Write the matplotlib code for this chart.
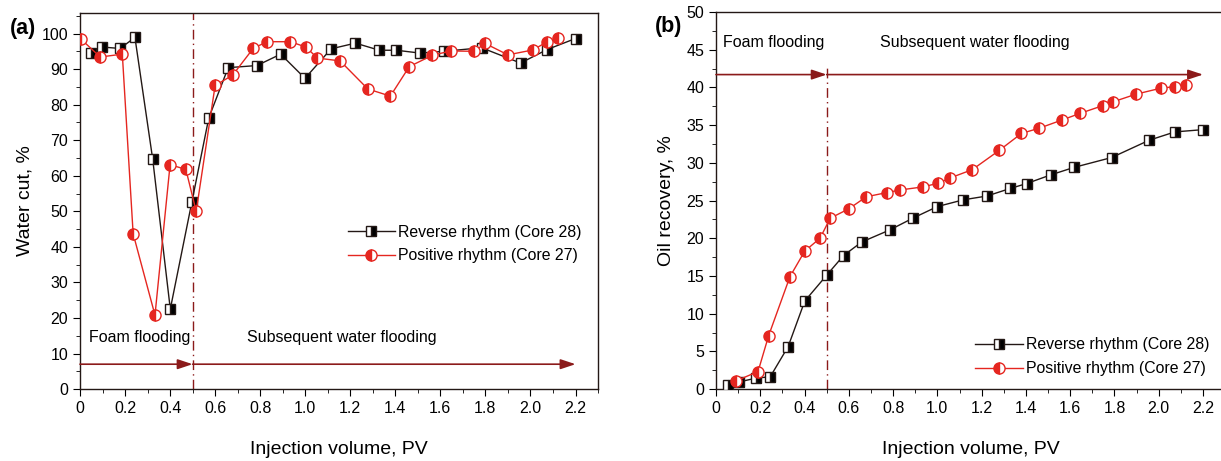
import numpy as np
import matplotlib.pyplot as plt
from matplotlib.ticker import MultipleLocator, FixedLocator

plt.rcParams['font.family'] = ['Liberation Sans', 'DejaVu Sans']

# (a) water cut
wc_rev_x = [0.051, 0.099, 0.178, 0.244, 0.323, 0.401, 0.497, 0.572, 0.658, 0.786, 0.891, 0.999,
            1.115, 1.223, 1.329, 1.404, 1.510, 1.616, 1.783, 1.956, 2.074, 2.2]
wc_rev_y = [94.4, 96.2, 95.8, 98.9, 64.6, 22.5, 52.7, 76.3, 90.4, 91.0, 94.2, 87.4,
            95.7, 97.3, 95.3, 95.3, 94.5, 95.0, 96.0, 91.7, 95.5, 98.6]
wc_pos_x = [0.003, 0.09, 0.188, 0.236, 0.333, 0.40, 0.47, 0.516, 0.6, 0.678, 0.77, 0.832, 0.934,
            1.003, 1.054, 1.155, 1.278, 1.378, 1.462, 1.565, 1.647, 1.749, 1.799, 1.9, 2.012,
            2.074, 2.121]
wc_pos_y = [98.5, 93.4, 94.2, 43.7, 20.8, 63.1, 61.8, 50.0, 85.4, 88.3, 95.9, 97.7, 97.7,
            96.2, 93.1, 92.3, 84.4, 82.4, 90.7, 93.9, 95.1, 95.0, 97.2, 94.0, 95.4,
            97.7, 98.7]

# (b) oil recovery
or_rev_x = [0.053, 0.102, 0.18, 0.245, 0.326, 0.401, 0.5, 0.576, 0.658, 0.785, 0.892, 1.0,
            1.118, 1.224, 1.329, 1.403, 1.512, 1.618, 1.787, 1.957, 2.073, 2.2]
or_rev_y = [0.57, 0.93, 1.45, 1.63, 5.64, 11.67, 15.1, 17.7, 19.5, 21.1, 22.7, 24.2,
            25.1, 25.6, 26.6, 27.25, 28.4, 29.4, 30.7, 33.0, 34.1, 34.4]
or_pos_x = [0.092, 0.19, 0.238, 0.334, 0.401, 0.47, 0.516, 0.6, 0.679, 0.773, 0.831, 0.933,
            1.005, 1.058, 1.158, 1.28, 1.38, 1.461, 1.565, 1.644, 1.749, 1.795, 1.897,
            2.01, 2.072, 2.121]
or_pos_y = [1.1, 2.33, 7.1, 14.9, 18.3, 20.0, 22.66, 23.9, 25.5, 26.06, 26.4, 26.8,
            27.3, 28.0, 29.1, 31.66, 33.9, 34.6, 35.7, 36.55, 37.6, 38.1, 39.1,
            39.9, 40.1, 40.3]

labels = ['Reverse rhythm (Core 28)', 'Positive rhythm (Core 27)']
dark_red = '#8b1a1a'

fig = plt.figure(figsize=(12.21, 4.61), dpi=100)
ax1 = fig.add_axes([0.0655, 0.156, 0.4243, 0.816])
ax2 = fig.add_axes([0.5864, 0.156, 0.417, 0.818])


def style(ax):
    for s in ax.spines.values():
        s.set_color('#231815')
        s.set_linewidth(1.0)
    ax.xaxis.set_major_locator(FixedLocator(np.arange(0, 2.21, 0.2)))
    ax.xaxis.set_minor_locator(MultipleLocator(0.1))
    ax.set_xticklabels(['0'] + ['%.1f' % v for v in np.arange(0.2, 2.21, 0.2)])
    ax.tick_params(which='both', direction='out', top=False, right=False, labelsize=11.5)
    ax.tick_params(which='major', length=5)
    ax.tick_params(which='minor', length=3)
    ax.set_xlabel('Injection volume, PV', fontsize=14, labelpad=18)


def draw(ax, rx, ry, px, py):
    ax.plot(rx, ry, color='#231815', lw=1.0, marker='s', ms=7, fillstyle='right',
            markerfacecolor='black', markerfacecoloralt='white', markeredgecolor='#231815',
            mew=1.0, label=labels[0], zorder=3)
    ax.plot(px, py, color='#e52620', lw=1.0, marker='o', ms=8, fillstyle='left',
            markerfacecolor='#e52620', markerfacecoloralt='white', markeredgecolor='#e52620',
            mew=1.0, label=labels[1], zorder=3)


def arrows(ax, y):
    kw = dict(arrowstyle='-|>,head_length=0.9,head_width=0.3', color=dark_red, lw=1.2,
              shrinkA=0, shrinkB=0)
    ax.annotate('', xy=(0.5, y), xytext=(0, y), arrowprops=kw)
    ax.annotate('', xy=(2.2, y), xytext=(0.5, y), arrowprops=kw)


# panel (a)
draw(ax1, wc_rev_x, wc_rev_y, wc_pos_x, wc_pos_y)
ax1.set_xlim(0, 2.3)
ax1.set_ylim(0, 105.8)
ax1.yaxis.set_major_locator(MultipleLocator(10))
ax1.yaxis.set_minor_locator(MultipleLocator(5))
style(ax1)
ax1.set_ylabel('Water cut, %', fontsize=14, labelpad=6)
ax1.axvline(0.5, color=dark_red, lw=1.0, ls=(0, (7, 3, 1, 3)), zorder=1)
arrows(ax1, 7)
ax1.text(0.04, 14.5, 'Foam flooding', fontsize=11.5, va='center')
ax1.text(0.74, 14.5, 'Subsequent water flooding', fontsize=11.5, va='center')
ax1.legend(loc='upper left', bbox_to_anchor=(0.489, 0.475), frameon=False, fontsize=11.4,
           handlelength=3, labelspacing=0.55, handletextpad=0.2)
fig.text(0.008, 0.939, '(a)', fontsize=15.5, fontweight='bold', va='center')

# panel (b)
draw(ax2, or_rev_x, or_rev_y, or_pos_x, or_pos_y)
ax2.set_xlim(0, 2.3)
ax2.set_ylim(0, 50)
ax2.yaxis.set_major_locator(MultipleLocator(5))
ax2.yaxis.set_minor_locator(MultipleLocator(2.5))
style(ax2)
ax2.set_ylabel('Oil recovery, %', fontsize=14, labelpad=8)
ax2.plot([0.5, 0.5], [0, 43], color=dark_red, lw=1.0, ls=(0, (7, 3, 1, 3)), zorder=1)
arrows(ax2, 41.7)
ax2.text(0.03, 46, 'Foam flooding', fontsize=11.5, va='center')
ax2.text(0.74, 46, 'Subsequent water flooding', fontsize=11.5, va='center')
ax2.legend(loc='upper left', bbox_to_anchor=(0.481, 0.175), frameon=False, fontsize=11.4,
           handlelength=3, labelspacing=0.55, handletextpad=0.2)
fig.text(0.536, 0.943, '(b)', fontsize=15.5, fontweight='bold', va='center')

fig.savefig('out.png', dpi=100)
